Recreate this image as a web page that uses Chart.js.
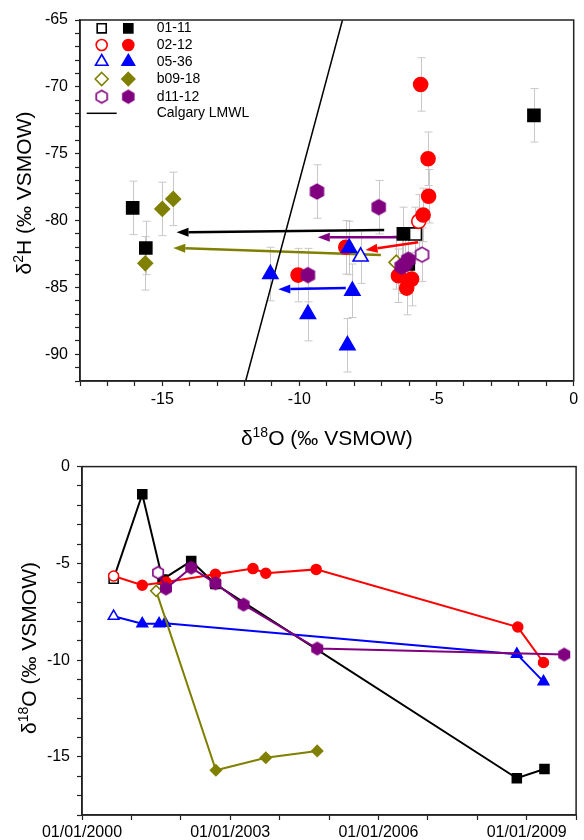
<!DOCTYPE html>
<html>
<head>
<meta charset="utf-8">
<title>Isotopes</title>
<script src="https://cdn.jsdelivr.net/npm/chart.js@4.4.1/dist/chart.umd.min.js"></script>
<style>
  body { margin: 0; background: #fff; }
  canvas { position: absolute; left: 0; }
  #isoChart { top: 0; }
  #timeChart { top: 450px; }
</style>
</head>
<body>
<canvas id="isoChart" width="584" height="450"></canvas>
<canvas id="timeChart" width="584" height="390"></canvas>
<script>
//datos: panel de arriba δ18O vs δ2H, panel de abajo δ18O en el tiempo
const siteNames = ['01-11', '02-12', '05-36', 'b09-18', 'd11-12']
const siteColors = ['#000000', '#ff0000', '#0000ff', '#808000', '#800080']
const siteShapes = ['rect', 'circle', 'triangle', 'rectRot', 'hex']

// primera muestra de cada sitio (simbolo abierto)
const firstO18 = [-5.77, -5.65, -7.77, -6.47, -5.53]
const firstH2 = [-81.0, -80.06, -82.7, -83.13, -82.55]

// muestras siguientes (simbolo relleno)
const o18Site0111 = [-16.08, -15.6, -1.45, -6.21, -6.03]
const h2Site0111 = [-79.05, -82.05, -72.13, -81.0, -83.25]
const o18Site0212 = [-5.58, -5.31, -5.29, -5.49, -8.31, -10.05, -6.39, -5.91, -6.09]
const h2Site0212 = [-69.82, -75.38, -78.18, -79.58, -82.0, -84.08, -84.13, -84.38, -85.05]
const o18Site0536 = [-11.06, -8.19, -8.07, -9.69, -8.25]
const h2Site0536 = [-84.0, -82.05, -85.25, -87.0, -89.33]
const o18SiteB0918 = [-15.0, -14.6, -15.62]
const h2SiteB0918 = [-79.13, -78.38, -83.2]
const o18SiteD1112 = [-9.36, -7.11, -9.69, -6.03, -6.15, -6.27]
const h2SiteD1112 = [-77.83, -79.0, -84.08, -82.93, -83.25, -83.45]

const h2Error = 2

// Calgary LMWL
const lmwlO18 = [-11.96, -8.43]
const lmwlH2 = [-92, -65]

// flechas: sitio, inicio y punta
const arrowSites = [0, 3, 4, 1, 2]
const arrowFromO18 = [-6.91, -7.03, -6.39, -5.67, -8.31]
const arrowFromH2 = [-80.70, -82.57, -81.25, -81.63, -85.05]
const arrowToO18 = [-14.48, -14.6, -9.33, -7.59, -10.77]
const arrowToH2 = [-80.88, -82.05, -81.25, -82.2, -85.13]

// panel de abajo: fecha (año decimal) y δ18O
const years0111 = [2000.64, 2001.22, 2001.63, 2002.21, 2002.70, 2008.80, 2009.36]
const time0111 = [-5.79, -1.43, -5.83, -4.88, -6.07, -16.1, -15.62]
const years0212 = [2000.64, 2001.22, 2001.70, 2002.70, 2003.46, 2003.72, 2004.74, 2008.82, 2009.34]
const time0212 = [-5.65, -6.13, -5.96, -5.56, -5.27, -5.51, -5.31, -8.29, -10.12]
const years0536 = [2000.64, 2001.22, 2001.56, 2001.68, 2008.80, 2009.34]
const time0536 = [-7.73, -8.12, -8.12, -8.09, -9.69, -11.11]
const yearsB0918 = [2001.50, 2002.71, 2003.72, 2004.76]
const timeB0918 = [-6.42, -15.69, -15.04, -14.69]
const yearsD1112 = [2001.54, 2001.70, 2002.21, 2002.70, 2003.27, 2004.76, 2009.76]
const timeD1112 = [-5.48, -6.3, -5.22, -6.03, -7.13, -9.40, -9.71]

const FONT = "'Liberation Sans', Arial, sans-serif"
Chart.defaults.font.family = FONT
Chart.defaults.color = '#000'

const xy = (xs, ys) => xs.map((x, i) => ({ x, y: ys[i] }))

const hexImage = (R, fill, stroke) => {
    const c = document.createElement('canvas')
    const s = Math.ceil(R * 2 + 4)
    c.width = s
    c.height = s
    const g = c.getContext('2d')
    g.beginPath()
    for (let k = 0; k < 6; k++) {
        const a = -Math.PI / 2 + k * Math.PI / 3
        const px = s / 2 + R * Math.cos(a)
        const py = s / 2 + R * Math.sin(a)
        if (k) g.lineTo(px, py)
        else g.moveTo(px, py)
    }
    g.closePath()
    g.fillStyle = fill
    g.fill()
    g.lineWidth = 1.6
    g.strokeStyle = stroke
    g.stroke()
    return c
}

const hexBig = [hexImage(7.4, '#fff', '#800080'), hexImage(7.4, '#800080', '#800080')]
const hexSmall = [hexImage(6, '#fff', '#800080'), hexImage(6, '#800080', '#800080')]
const hexLegend = [hexImage(6.3, '#fff', '#800080'), hexImage(6.3, '#800080', '#800080')]

const bigRadius = { rect: 8.5, circle: 7, triangle: 8.7, rectRot: 7.2, hex: 7 }
const smallRadius = { rect: 6.4, circle: 5, triangle: 6.2, rectRot: 5.5, hex: 6 }

// marcador para la leyenda
const drawShape = (ctx, shape, x, y, r, fill, stroke, open) => {
    if (shape === 'hex') {
        const img = hexLegend[open ? 0 : 1]
        ctx.drawImage(img, x - img.width / 2, y - img.height / 2)
        return
    }
    ctx.beginPath()
    if (shape === 'rect') {
        const h = r * Math.SQRT1_2
        ctx.rect(x - h, y - h, 2 * h, 2 * h)
    } else if (shape === 'circle') {
        ctx.arc(x, y, r, 0, Math.PI * 2)
    } else if (shape === 'triangle') {
        for (let k = 0; k < 3; k++) {
            const a = -Math.PI / 2 + k * 2 * Math.PI / 3
            if (k) ctx.lineTo(x + r * Math.cos(a), y + r * Math.sin(a))
            else ctx.moveTo(x + r * Math.cos(a), y + r * Math.sin(a))
        }
        ctx.closePath()
    } else {
        ctx.moveTo(x, y - r)
        ctx.lineTo(x + r, y)
        ctx.lineTo(x, y + r)
        ctx.lineTo(x - r, y)
        ctx.closePath()
    }
    ctx.fillStyle = fill
    ctx.fill()
    ctx.lineWidth = 1.6
    ctx.strokeStyle = stroke
    ctx.stroke()
}

const drawSupLabel = (ctx, parts, cx, cy, rotated) => {
    ctx.save()
    ctx.translate(cx, cy)
    if (rotated) ctx.rotate(-Math.PI / 2)
    let total = 0
    parts.forEach(([t, s]) => {
        ctx.font = `${s}px ${FONT}`
        total += ctx.measureText(t).width
    })
    let x = -total / 2
    ctx.fillStyle = '#000'
    ctx.textBaseline = 'alphabetic'
    parts.forEach(([t, s, raise]) => {
        ctx.font = `${s}px ${FONT}`
        ctx.fillText(t, x, 7.5 - raise)
        x += ctx.measureText(t).width
    })
    ctx.restore()
}

const frame = {
    id: 'frame',
    afterDraw(chart) {
        const { ctx, chartArea: a } = chart
        ctx.save()
        ctx.strokeStyle = '#222'
        ctx.lineWidth = 1.5
        ctx.strokeRect(a.left, a.top, a.right - a.left, a.bottom - a.top)
        ctx.restore()
    }
}

const errorBars = {
    id: 'errorBars',
    beforeDatasetsDraw(chart) {
        const { ctx, scales: { x, y } } = chart
        ctx.save()
        ctx.strokeStyle = '#c8c8c8'
        ctx.lineWidth = 1
        chart.data.datasets.forEach(ds => {
            if (!ds.errorBar) return
            ds.data.forEach(p => {
                const px = Math.round(x.getPixelForValue(p.x)) + 0.5
                const top = y.getPixelForValue(p.y + ds.errorBar)
                const bot = y.getPixelForValue(p.y - ds.errorBar)
                ctx.beginPath()
                ctx.moveTo(px, top)
                ctx.lineTo(px, bot)
                ctx.moveTo(px - 4, top)
                ctx.lineTo(px + 4, top)
                ctx.moveTo(px - 4, bot)
                ctx.lineTo(px + 4, bot)
                ctx.stroke()
            })
        })
        ctx.restore()
    }
}

const arrows = {
    id: 'arrows',
    beforeDatasetsDraw(chart) {
        const { ctx, scales: { x, y } } = chart
        ctx.save()
        arrowSites.forEach((site, i) => {
            const x0 = x.getPixelForValue(arrowFromO18[i])
            const y0 = y.getPixelForValue(arrowFromH2[i])
            const x1 = x.getPixelForValue(arrowToO18[i])
            const y1 = y.getPixelForValue(arrowToH2[i])
            const ang = Math.atan2(y1 - y0, x1 - x0)
            const head = 12, half = 4.5
            const bx = x1 - head * Math.cos(ang)
            const by = y1 - head * Math.sin(ang)
            ctx.strokeStyle = siteColors[site]
            ctx.fillStyle = siteColors[site]
            ctx.lineWidth = 2.5
            ctx.beginPath()
            ctx.moveTo(x0, y0)
            ctx.lineTo(bx, by)
            ctx.stroke()
            ctx.beginPath()
            ctx.moveTo(x1, y1)
            ctx.lineTo(bx + half * Math.sin(ang), by - half * Math.cos(ang))
            ctx.lineTo(bx - half * Math.sin(ang), by + half * Math.cos(ang))
            ctx.closePath()
            ctx.fill()
        })
        ctx.restore()
    }
}

const legendRows = [28.3, 45, 61.7, 79, 96.7, 113.3]
const isoLegend = {
    id: 'isoLegend',
    afterDraw(chart) {
        const { ctx } = chart
        ctx.save()
        const legR = { rect: 6.4, circle: 5.5, triangle: 7.2, rectRot: 6.5, hex: 6.3 }
        siteNames.forEach((name, i) => {
            const shape = siteShapes[i]
            drawShape(ctx, shape, 101.7, legendRows[i], legR[shape], '#fff', siteColors[i], true)
            drawShape(ctx, shape, 128.3, legendRows[i], legR[shape], siteColors[i], siteColors[i], false)
        })
        ctx.strokeStyle = '#000'
        ctx.lineWidth = 1.5
        ctx.beginPath()
        ctx.moveTo(86.7, legendRows[5])
        ctx.lineTo(116.7, legendRows[5])
        ctx.stroke()
        ctx.fillStyle = '#000'
        ctx.font = `14px ${FONT}`
        ctx.textBaseline = 'middle'
        siteNames.concat(['Calgary LMWL']).forEach((t, i) => ctx.fillText(t, 156.7, legendRows[i]))
        ctx.restore()
    }
}

const isoTitles = {
    id: 'isoTitles',
    afterDraw(chart) {
        const { ctx, chartArea: a } = chart
        drawSupLabel(ctx, [['δ', 21, 0], ['18', 14, 8], ['O (‰ VSMOW)', 21, 0]], (a.left + a.right) / 2, 437, false)
        drawSupLabel(ctx, [['δ', 21, 0], ['2', 14, 8], ['H (‰ VSMOW)', 21, 0]], 23, 193, true)
    }
}

const timeTitles = {
    id: 'timeTitles',
    afterDraw(chart) {
        drawSupLabel(chart.ctx, [['δ', 21, 0], ['18', 14, 8], ['O (‰ VSMOW)', 21, 0]], 28, 198, true)
    }
}

const axisStyle = (min, max, size, labelFn, pad, fitFn) => ({
    type: 'linear',
    min,
    max,
    afterFit: fitFn,
    ticks: {
        stepSize: 1,
        autoSkip: false,
        maxRotation: 0,
        padding: pad,
        font: { size, family: FONT },
        color: '#000',
        callback: labelFn
    },
    grid: { drawOnChartArea: false, tickLength: 5, color: '#222', tickWidth: 1.2 },
    border: { color: '#222', width: 1.5 }
})

const everyFive = v => (v % 5 === 0 ? String(v) : '')

// panel de arriba
const isoSite = [
    [o18Site0111, h2Site0111], [o18Site0212, h2Site0212], [o18Site0536, h2Site0536],
    [o18SiteB0918, h2SiteB0918], [o18SiteD1112, h2SiteD1112]
]

const isoSets = isoSite.map(([xs, ys], i) => {
    const shape = siteShapes[i]
    const n = xs.length + 1
    return {
        label: siteNames[i],
        data: xy([firstO18[i]].concat(xs), [firstH2[i]].concat(ys)),
        errorBar: h2Error,
        pointStyle: shape === 'hex' ? [hexBig[0]].concat(Array(n - 1).fill(hexBig[1])) : shape,
        pointRadius: bigRadius[shape],
        pointBackgroundColor: Array.from({ length: n }, (_, k) => (k === 0 ? '#fff' : siteColors[i])),
        pointBorderColor: siteColors[i],
        pointBorderWidth: 1.6
    }
}).reverse()

isoSets.push({
    label: 'Calgary LMWL',
    data: xy(lmwlO18, lmwlH2),
    showLine: true,
    pointRadius: 0,
    borderColor: '#000',
    borderWidth: 1.5
})

new Chart(document.querySelector('#isoChart'), {
    type: 'scatter',
    data: { datasets: isoSets },
    options: {
        responsive: false,
        animation: false,
        events: [],
        layout: { padding: { left: 0, right: 5, top: 20, bottom: 0 } },
        plugins: { legend: { display: false }, tooltip: { enabled: false } },
        scales: {
            x: axisStyle(-18, 0, 16, everyFive, 4, s => { s.height = 69 }),
            y: axisStyle(-92, -65, 16, everyFive, 7, s => { s.width = 80 })
        }
    },
    plugins: [errorBars, arrows, frame, isoLegend, isoTitles]
})

// panel de abajo
const timeSite = [
    [years0111, time0111], [years0212, time0212], [years0536, time0536],
    [yearsB0918, timeB0918], [yearsD1112, timeD1112]
]
const drawOrder = [4, 1, 3, 2, 0]

const timeSets = drawOrder.map(i => {
    const [xs, ys] = timeSite[i]
    const shape = siteShapes[i]
    const n = xs.length
    return {
        label: siteNames[i],
        data: xy(xs, ys),
        showLine: true,
        borderColor: siteColors[i],
        borderWidth: 2,
        pointStyle: shape === 'hex' ? [hexSmall[0]].concat(Array(n - 1).fill(hexSmall[1])) : shape,
        pointRadius: smallRadius[shape],
        pointBackgroundColor: Array.from({ length: n }, (_, k) => (k === 0 ? '#fff' : siteColors[i])),
        pointBorderColor: siteColors[i],
        pointBorderWidth: 1.5
    }
})

new Chart(document.querySelector('#timeChart'), {
    type: 'scatter',
    data: { datasets: timeSets },
    options: {
        responsive: false,
        animation: false,
        events: [],
        layout: { padding: { left: 0, right: 6, top: 13, bottom: 0 } },
        plugins: { legend: { display: false }, tooltip: { enabled: false } },
        scales: {
            x: axisStyle(2000, 2010, 16, v => ((v - 2000) % 3 === 0 && v < 2010 ? '01/01/' + v : ''), 3, s => { s.height = 25 }),
            y: axisStyle(-18, 0, 16, everyFive, 7, s => { s.width = 82 })
        }
    },
    plugins: [frame, timeTitles]
})
</script>
</body>
</html>
